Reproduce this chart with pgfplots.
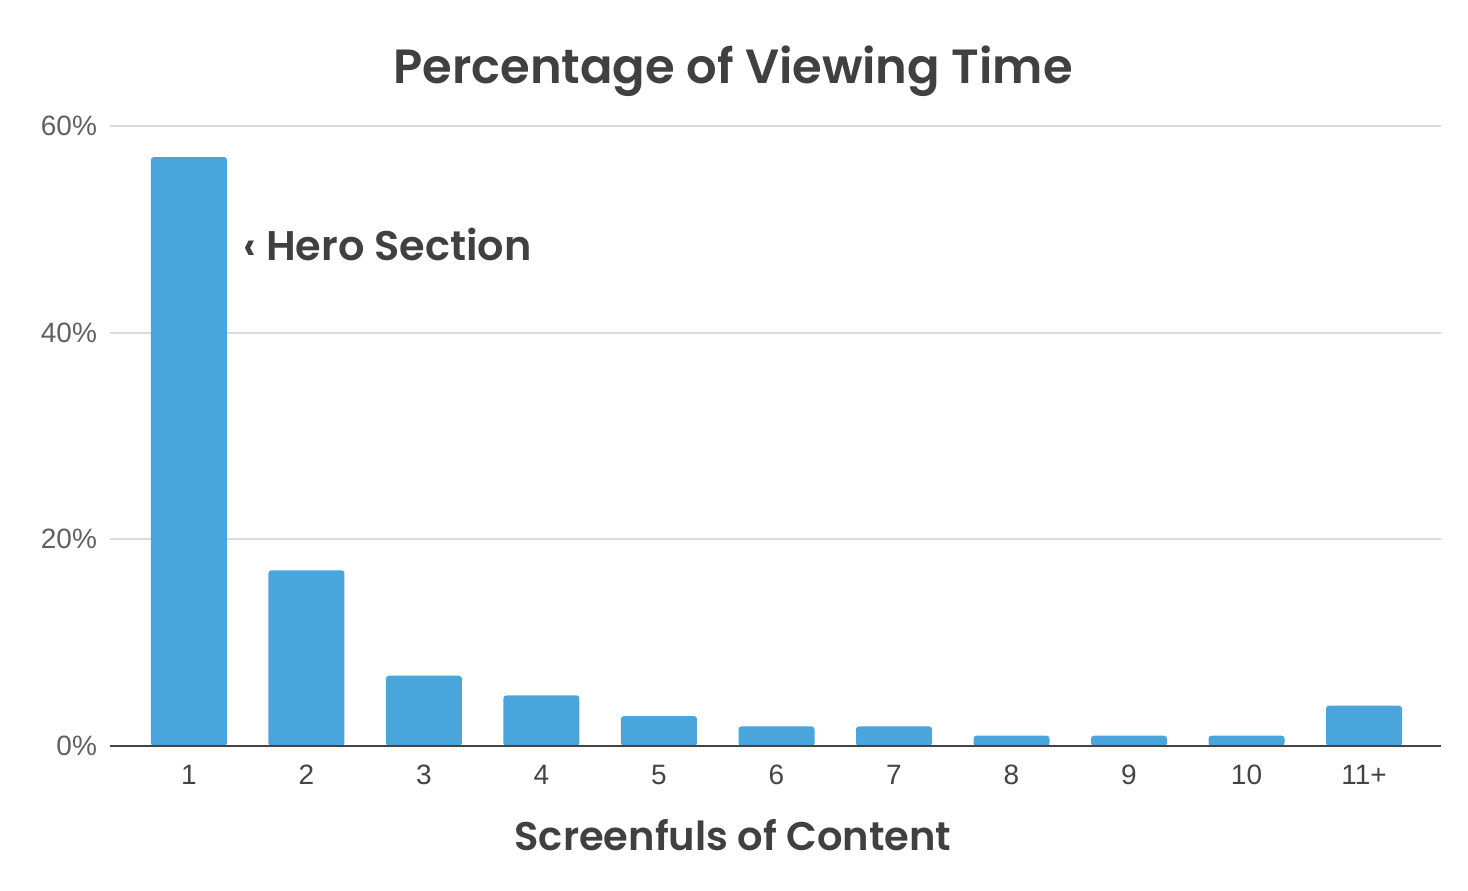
\documentclass[border=0pt]{standalone}
\usepackage{pgfplots}
\pgfplotsset{compat=1.18}
\usepackage{fontspec}
\setmainfont{Liberation Sans}
\newfontfamily\pop{Poppins}[BoldFont={Poppins SemiBold}]
\definecolor{barblue}{HTML}{4AA5DC}
\definecolor{titlegray}{HTML}{404040}
\definecolor{tickgray}{HTML}{444444}
\definecolor{gridgray}{HTML}{DADADA}

\begin{document}
\begin{tikzpicture}
\begin{axis}[
  name=ax,
  scale only axis,
  width=665.5pt, height=310pt,
  xmin=-0.672, xmax=10.655,
  ymin=0, ymax=60,
  ytick={0,20,40,60},
  yticklabels={0\%,20\%,40\%,60\%},
  xtick={0,...,10},
  xticklabels={1,2,3,4,5,6,7,8,9,10,11+},
  major tick length=0pt,
  axis line style={draw=none},
  ymajorgrids,
  grid style={gridgray, line width=1pt},
  tick label style={font=\fontsize{14}{16}\selectfont, text=tickgray},
  yticklabel style={xshift=-3pt, text=tickgray!85},
  xticklabel style={yshift=-6pt},
  clip=false,
]
\addplot[ybar, bar width=38pt, fill=barblue, draw=none, rounded corners=1.5pt]
coordinates {
(0,57) (1,17) (2,6.8) (3,4.9) (4,2.9) (5,1.9) (6,1.9) (7,1) (8,1) (9,1) (10,3.9)
};
\draw[tickgray, line width=1.2pt] (axis cs:-0.672,0) -- (axis cs:10.655,0);
\end{axis}
\node[font=\pop\bfseries\fontsize{24}{30}\selectfont, text=titlegray] at (311.5pt,337.5pt) {Percentage of Viewing Time};
\node[font=\pop\bfseries\fontsize{20}{24}\selectfont, text=titlegray] at (311.5pt,-44.5pt) {Screenfuls of Content};
\node[font=\pop\bfseries\fontsize{20.7}{24}\selectfont, text=titlegray, anchor=west, inner sep=0pt] at (66.5pt,251pt) {‹ Hero Section};
\path[use as bounding box] (-55pt,-72pt) rectangle (679pt,373pt);
\end{tikzpicture}
\end{document}
